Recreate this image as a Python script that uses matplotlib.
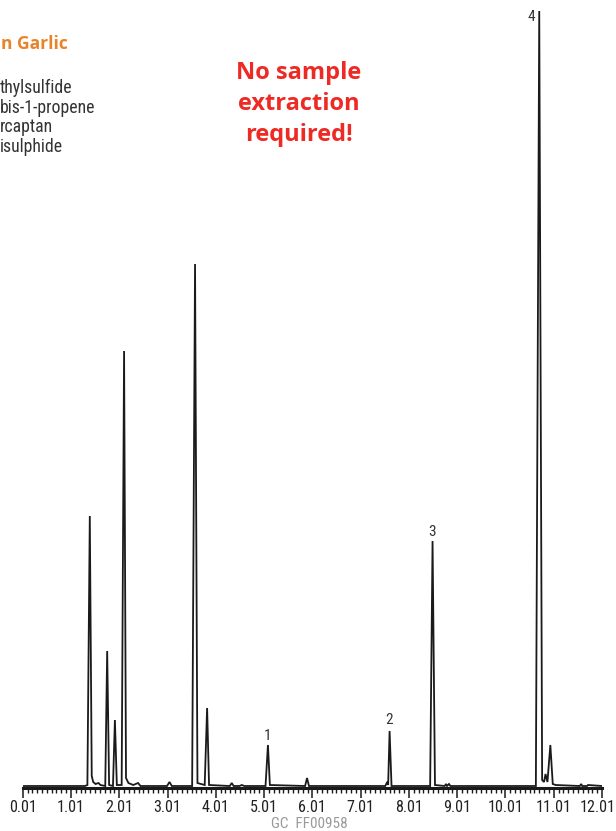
import matplotlib
matplotlib.use("Agg")
import matplotlib.pyplot as plt
import matplotlib.transforms as mtransforms
from matplotlib.ticker import MultipleLocator, FixedLocator

# chromatogram trace: retention time (min), signal
times = [0.01, 1.30, 1.35, 1.40, 1.44, 1.47, 1.52, 1.58, 1.62, 1.72, 1.76, 1.80,
         1.88, 1.92, 1.96, 2.06, 2.11, 2.15, 2.20, 2.30, 2.40, 2.45, 3.00, 3.05,
         3.10, 3.52, 3.58, 3.63, 3.78, 3.83, 3.87, 4.30, 4.34, 4.38, 4.50, 4.55,
         4.60, 5.04, 5.09, 5.13, 5.86, 5.90, 5.94, 7.52, 7.56, 7.58, 7.61, 7.65,
         8.45, 8.50, 8.55, 8.75, 8.78, 8.80, 8.84, 8.87, 10.64, 10.71, 10.77,
         10.81, 10.84, 10.88, 10.94, 10.99, 11.05, 11.55, 11.58, 11.60, 11.70,
         11.72, 12.01]
signal = [2, 2, 3, 272, 12, 6, 4, 5, 3, 2, 137, 3,
          2, 68, 3, 3, 437, 10, 5, 3, 5, 2, 2, 6,
          2, 2, 524, 5, 3, 80, 3, 2, 5, 2, 2, 3,
          2, 2, 43, 3, 2, 10, 2, 2, 6, 3, 57, 2,
          2, 247, 3, 2, 4, 2, 4, 2, 2, 777, 8,
          6, 14, 6, 43, 4, 3, 2, 4, 2, 2,
          3, 2]

peak_ids = ["1", "2", "3", "4"]
peak_label_t = [5.09, 7.60, 8.50, 10.55]
peak_label_y = [52, 68, 256, 771]

legend_lines = ["thylsulfide", "bis-1-propene", "rcaptan", "isulphide"]
major_ticks = [0.01 + i for i in range(13)]
tick_labels = ["%.2f" % t for t in major_ticks]

narrow = ["Roboto Condensed", "Liberation Sans Narrow", "DejaVu Sans"]
nfont = dict(family=narrow, stretch="condensed")

fig = plt.figure(figsize=(6.16, 8.31), dpi=100)
ax = fig.add_axes([22.7 / 616, 43 / 831, 579.3 / 616, 777 / 831])

ax.plot(times, signal, color="#1a1a1a", lw=1.3, solid_joinstyle="miter")
ax.set_xlim(0.01, 12.01)
ax.set_ylim(0, 777)

for s in ["left", "right", "top"]:
    ax.spines[s].set_visible(False)
ax.spines["bottom"].set_linewidth(2.2)
ax.spines["bottom"].set_color("#1a1a1a")
ax.set_yticks([])

ax.xaxis.set_major_locator(FixedLocator(major_ticks))
ax.xaxis.set_minor_locator(MultipleLocator(0.1, offset=0.01))
ax.set_xticklabels(tick_labels, fontsize=11.6, color="#222222", **nfont)
ax.tick_params(axis="x", which="major", direction="out", length=7, width=1.1,
               color="#1a1a1a", pad=2)
ax.tick_params(axis="x", which="minor", direction="out", length=3.5, width=1.0,
               color="#1a1a1a")

# last label sits right at the edge of the picture, pull it in a little
last = ax.get_xticklabels()[-1]
last.set_transform(last.get_transform()
                   + mtransforms.ScaledTranslation(-3 / 72, 0, fig.dpi_scale_trans))

for lab, t, y in zip(peak_ids, peak_label_t, peak_label_y):
    ax.text(t, y, lab, ha="center", va="center", fontsize=11,
            color="#333333", **nfont)

fig.text(309 / 616, 1 - 824 / 831, "GC  FF00958", ha="center", va="center",
         fontsize=11, color="#9a9a9a", **nfont)

fig.text(1 / 616, 1 - 44 / 831, "n Garlic", ha="left", va="center",
         fontsize=12.5, fontweight="bold", family=["Open Sans", "DejaVu Sans"],
         color="#e8832a")

for i, line in enumerate(legend_lines):
    fig.text(0, 1 - (88 + 19.7 * i) / 831, line, ha="left", va="center",
             fontsize=12.8, color="#333333", **nfont)

fig.text(299 / 616, 1 - 104 / 831, "No sample\nextraction\nrequired!",
         ha="center", va="center", fontsize=17, fontweight="bold",
         family=["Open Sans", "DejaVu Sans"], color="#ee2a24", linespacing=1.4)

fig.savefig("out.png", dpi=100)
